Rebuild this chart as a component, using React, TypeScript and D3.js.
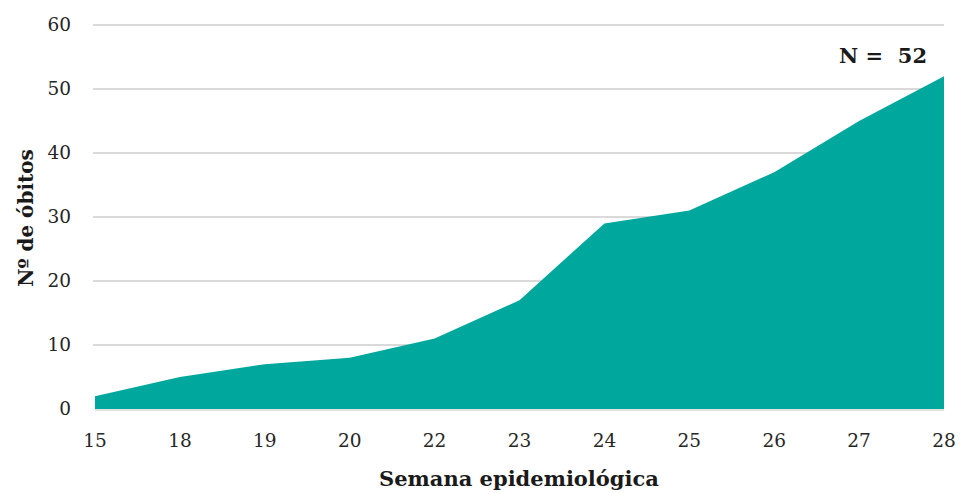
import { useRef, useEffect } from "react";
import * as d3 from "d3";

const weeks = ["15", "18", "19", "20", "22", "23", "24", "25", "26", "27", "28"];
const deaths = [2, 5, 7, 8, 11, 17, 29, 31, 37, 45, 52];
const yTicks = [0, 10, 20, 30, 40, 50, 60];

export default function App() {
  const svgRef = useRef<SVGSVGElement>(null);

  useEffect(() => {
    if (!svgRef.current) return;
    const svg = d3.select(svgRef.current);
    svg.selectAll("*").remove();

    const width = 961;
    const height = 493;
    const margin = { top: 25, right: 17, bottom: 84, left: 95 };
    const font = "'DejaVu Serif', 'Liberation Serif', serif";

    const x = d3.scalePoint<string>()
      .domain(weeks)
      .range([margin.left, width - margin.right]);

    const y = d3.scaleLinear()
      .domain([0, 60])
      .range([height - margin.bottom, margin.top]);

    // Gridlines
    svg.append("g")
      .selectAll("line")
      .data(yTicks.slice(1))
      .join("line")
      .attr("x1", margin.left - 2)
      .attr("x2", width - margin.right)
      .attr("y1", (d) => y(d))
      .attr("y2", (d) => y(d))
      .attr("stroke", "#d9d9d9")
      .attr("stroke-width", 2);

    // Area
    const area = d3.area<number>()
      .x((_, i) => x(weeks[i]) ?? 0)
      .y0(y(0))
      .y1((d) => y(d));

    svg.append("path")
      .datum(deaths)
      .attr("d", area)
      .attr("fill", "#00a79d");

    // Baseline
    svg.append("line")
      .attr("x1", margin.left)
      .attr("x2", width - margin.right)
      .attr("y1", y(0) + 1)
      .attr("y2", y(0) + 1)
      .attr("stroke", "#d9d9d9")
      .attr("stroke-width", 1.5);

    // Y tick labels
    svg.append("g")
      .selectAll("text")
      .data(yTicks)
      .join("text")
      .attr("x", 71)
      .attr("y", (d) => y(d))
      .attr("dy", "0.35em")
      .attr("text-anchor", "end")
      .attr("font-family", font)
      .attr("font-size", "18.5px")
      .attr("fill", "#262626")
      .text((d) => d);

    // X tick labels
    svg.append("g")
      .selectAll("text")
      .data(weeks)
      .join("text")
      .attr("x", (d) => x(d) ?? 0)
      .attr("y", 447)
      .attr("text-anchor", "middle")
      .attr("font-family", font)
      .attr("font-size", "18.5px")
      .attr("fill", "#262626")
      .text((d) => d);

    // Axis titles
    svg.append("text")
      .attr("x", 519)
      .attr("y", 486)
      .attr("text-anchor", "middle")
      .attr("font-family", font)
      .attr("font-size", "21px")
      .attr("font-weight", "bold")
      .attr("fill", "#1a1a1a")
      .text("Semana epidemiológica");

    svg.append("text")
      .attr("transform", `translate(33,218) rotate(-90)`)
      .attr("text-anchor", "middle")
      .attr("font-family", font)
      .attr("font-size", "20px")
      .attr("font-weight", "bold")
      .attr("fill", "#1a1a1a")
      .text("Nº de óbitos");

    // Total annotation
    svg.append("text")
      .attr("x", 927)
      .attr("y", 63)
      .attr("text-anchor", "end")
      .attr("font-family", font)
      .attr("font-size", "21px")
      .attr("font-weight", "bold")
      .attr("fill", "#1a1a1a")
      .attr("xml:space", "preserve")
      .text("N =  52");
  }, []);

  return (
    <svg
      ref={svgRef}
      width={961}
      height={493}
      style={{ position: "absolute", left: 0, top: 0, background: "#fff" }}
    />
  );
}
